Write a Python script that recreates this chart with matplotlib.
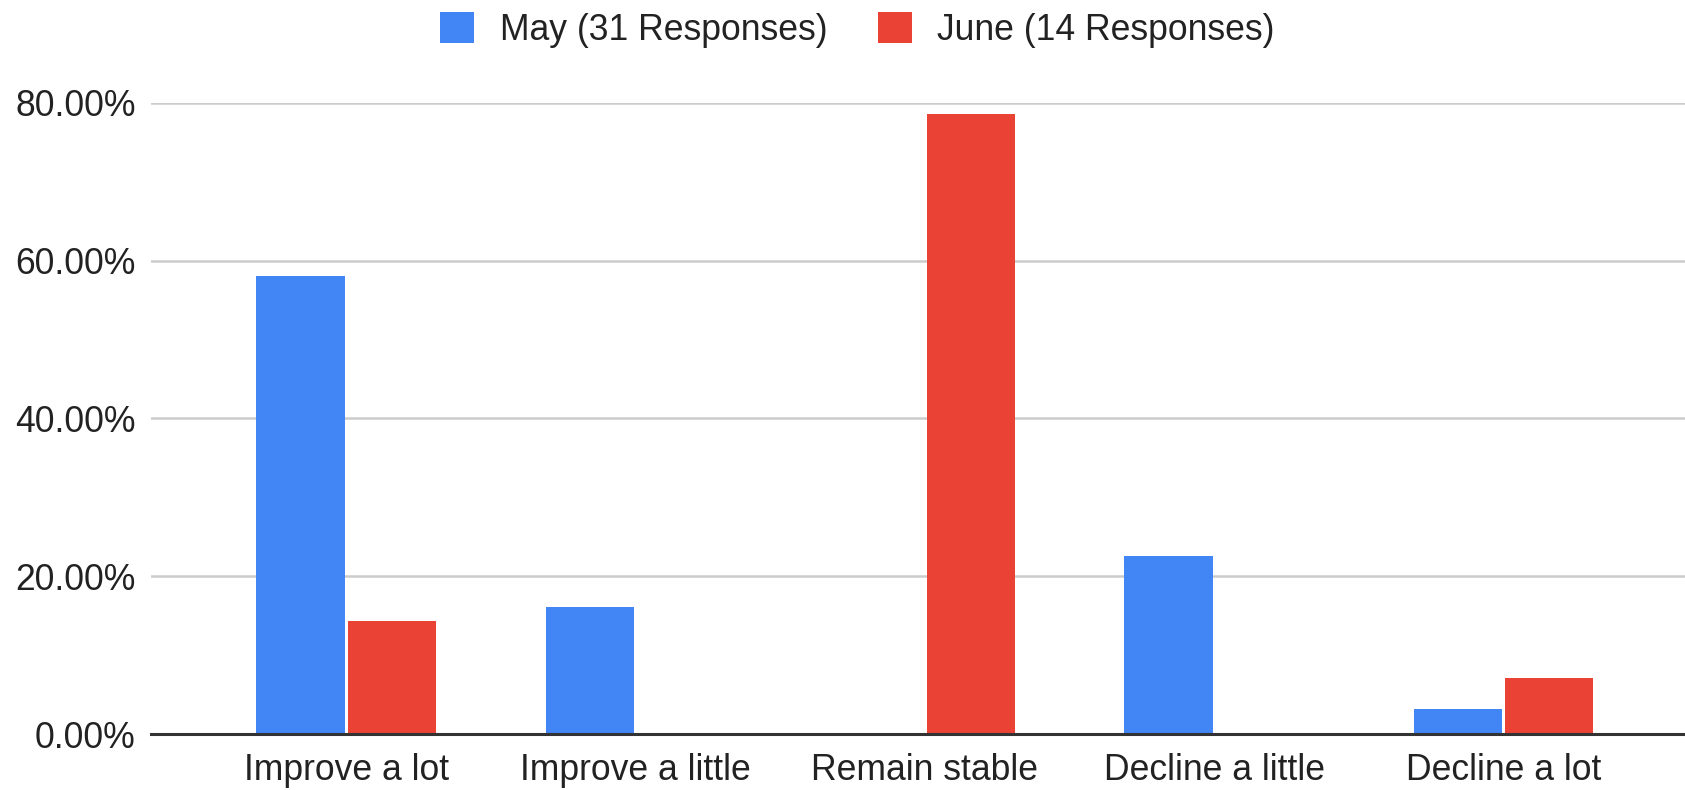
import matplotlib.pyplot as plt
from matplotlib.patches import Patch
from matplotlib.ticker import FuncFormatter
import numpy as np

plt.rcParams['font.family'] = ['Liberation Sans', 'DejaVu Sans']

categories = ['Improve a lot', 'Improve a little', 'Remain stable', 'Decline a little', 'Decline a lot']
may_pct = [58.06, 16.13, 0.0, 22.58, 3.23]
june_pct = [14.29, 0.0, 78.57, 0.0, 7.14]
series_names = ['May (31 Responses)', 'June (14 Responses)']
yticks = [0, 20, 40, 60, 80]

blue = '#4285F4'
red = '#EA4335'
fs = 25.6

fig = plt.figure(figsize=(16.85, 7.9), dpi=100)
ax = fig.add_axes([151 / 1685, 1 - 734 / 790, 1 - 151 / 1685, (734 - 103) / 790])

x = np.arange(len(categories))
w = 0.305
off = 0.158
ax.bar(x - off, may_pct, width=w, color=blue, zorder=2)
ax.bar(x + off, june_pct, width=w, color=red, zorder=2)

ax.set_xlim(-0.675, 4.627)
ax.set_ylim(0, 80)
ax.set_yticks(yticks)
ax.yaxis.set_major_formatter(FuncFormatter(lambda v, p: f'{v:.2f}%'))
ax.set_xticks(x)
ax.set_xticklabels(categories)
ax.tick_params(axis='both', length=0, labelsize=fs, labelcolor='#222222')
ax.tick_params(axis='y', pad=11)
ax.tick_params(axis='x', pad=14)

ax.grid(axis='y', color='#cccccc', linewidth=1.8, zorder=0)
ax.set_axisbelow(True)
for s in ['top', 'right', 'left']:
    ax.spines[s].set_visible(False)
ax.spines['bottom'].set_color('#333333')
ax.spines['bottom'].set_linewidth(2.2)
ax.spines['bottom'].set_zorder(3)

handles = [Patch(facecolor=blue, label=series_names[0]),
           Patch(facecolor=red, label=series_names[1])]
fig.legend(handles=handles, loc='center', bbox_to_anchor=(0.509, 1 - 30 / 790), ncol=2,
           frameon=False, fontsize=fs, handlelength=0.95, handleheight=0.95,
           handletextpad=0.72, columnspacing=1.42, labelcolor='#222222')

fig.savefig('out.png', dpi=100)
